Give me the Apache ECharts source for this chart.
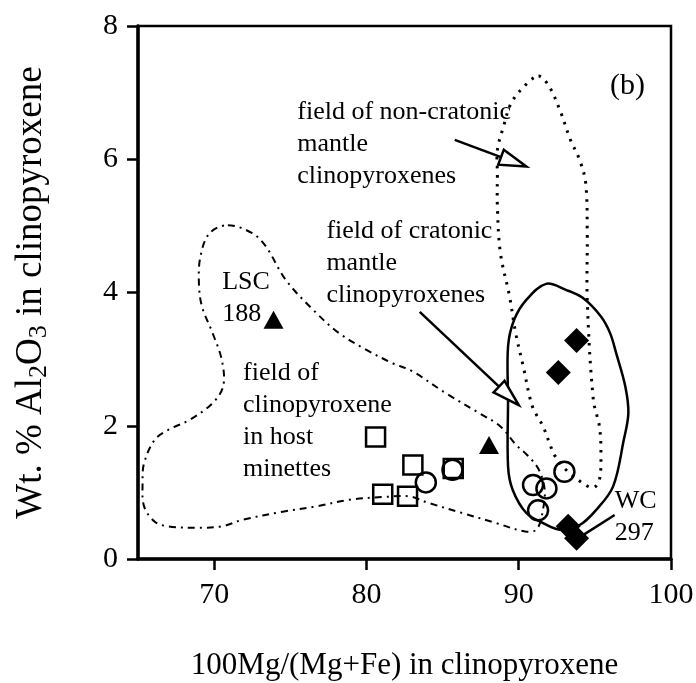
<!DOCTYPE html>
<html>
<head>
<meta charset="utf-8">
<script src="https://cdn.jsdelivr.net/npm/echarts@6/dist/echarts.min.js"></script>
<style>html,body{margin:0;padding:0;background:#fff}#c{width:696px;height:683px}</style>
</head>
<body>
<div id="c"></div>
<script>
// ---- data ----
const xTickValues = [70, 80, 90, 100];
const yTickValues = [0, 2, 4, 6, 8];

const triangles = [[73.9, 3.59], [88.05, 1.71]];
const squares = [[80.6, 1.83], [83.05, 1.41], [85.7, 1.36], [81.07, 0.97], [82.7, 0.94]];
const circles = [[83.9, 1.15], [85.65, 1.34], [90.94, 1.11], [91.82, 1.06], [93.0, 1.31], [91.27, 0.73]];
const diamonds = [[93.8, 3.28], [92.6, 2.80], [93.25, 0.49], [93.8, 0.31]];

// field outlines (closed loops)
const cratonicField = [
  [91.8, 4.13], [93.1, 4.04], [94.2, 3.92], [95.4, 3.64], [96.0, 3.39], [96.4, 3.09],
  [97.0, 2.59], [97.2, 2.19], [96.9, 1.79], [96.2, 1.09], [95.1, 0.74], [94.0, 0.51],
  [92.7, 0.44], [91.6, 0.54], [90.5, 0.69], [89.6, 1.04], [89.3, 1.39], [89.3, 2.39],
  [89.3, 3.19], [89.7, 3.59], [90.5, 3.89]
];
const nonCratonicField = [
  [91.3, 7.25], [92.0, 7.09], [92.7, 6.74], [93.4, 6.29], [94.0, 5.99], [94.4, 5.64],
  [94.5, 4.89], [94.5, 3.89], [94.9, 2.39], [95.3, 1.99], [95.4, 1.59], [95.3, 1.19],
  [94.9, 1.07], [94.2, 1.14], [93.1, 1.34], [92.4, 1.54], [92.1, 1.69], [91.6, 1.99],
  [90.9, 2.29], [90.3, 2.89], [89.8, 3.39], [89.4, 3.94], [88.8, 4.59], [88.6, 5.29],
  [88.6, 5.79], [88.6, 6.14], [89.0, 6.49], [89.5, 6.84], [90.3, 7.08]
];
const minetteField = [
  [70.9, 5.01], [72.5, 4.89], [73.4, 4.69], [74.7, 4.19], [76.5, 3.74], [78.2, 3.39],
  [80.0, 3.14], [81.7, 2.94], [83.0, 2.82], [85.2, 2.49], [87.4, 2.19], [88.8, 1.99],
  [89.8, 1.72], [90.6, 1.55], [91.3, 1.35], [91.7, 1.05], [91.6, 0.75], [91.2, 0.45],
  [90.5, 0.41], [88.5, 0.54], [86.3, 0.69], [84.1, 0.84], [82.8, 0.94], [81.1, 0.93],
  [78.9, 0.89], [76.7, 0.79], [74.5, 0.71], [71.9, 0.59], [70.5, 0.49], [69.0, 0.47],
  [67.0, 0.49], [66.1, 0.56], [65.4, 0.79], [65.3, 1.14], [65.4, 1.44], [66.1, 1.79],
  [67.0, 1.94], [68.4, 2.09], [69.9, 2.34], [70.6, 2.6], [70.5, 2.99], [69.9, 3.39],
  [69.2, 3.79], [69.0, 4.14], [69.1, 4.54], [69.7, 4.89]
];

// arrows: [tail, tip]
const arrowNonCratonic = [[85.8, 6.29], [90.5, 5.89]];
const arrowCratonic = [[83.5, 3.71], [90.0, 2.31]];
const lineWC = [[96.3, 0.66], [94.3, 0.37]];

// annotation texts: [x, y, text]
const annotations = [
  [75.46, 6.23, 'field of non-cratonic\nmantle\nclinopyroxenes'],
  [77.37, 4.44, 'field of cratonic\nmantle\nclinopyroxenes'],
  [70.53, 3.92, 'LSC\n188'],
  [71.9, 2.07, 'field of\nclinopyroxene\nin host\nminettes'],
  [96.3, 0.635, 'WC\n297']
];
const panelLabel = [96.0, 7.1, '(b)'];

// ---- chart ----
const FONT = "'Liberation Serif', 'Times New Roman', serif";
const chart = echarts.init(document.getElementById('c'), null, {renderer: 'canvas'});

function fieldSeries(points, style) {
  return {
    type: 'custom', data: [0], silent: true, clip: false, z: 3,
    renderItem: function (params, api) {
      return {
        type: 'polygon',
        shape: {points: points.map(p => api.coord(p)), smooth: 0.35},
        style: Object.assign({fill: 'none', stroke: '#000'}, style)
      };
    }
  };
}

function arrowSeries(pair, openHead) {
  return {
    type: 'custom', data: [0], silent: true, clip: false, z: 4,
    renderItem: function (params, api) {
      const a = api.coord(pair[0]);
      const b = api.coord(pair[1]);
      const children = [];
      if (openHead) {
        const dx = b[0] - a[0], dy = b[1] - a[1];
        const len = Math.sqrt(dx * dx + dy * dy);
        const ux = dx / len, uy = dy / len;
        const hl = 27, hw = 8;
        const bx = b[0] - ux * hl, by = b[1] - uy * hl;
        children.push({type: 'line', shape: {x1: a[0], y1: a[1], x2: bx, y2: by},
          style: {stroke: '#000', lineWidth: 2.5}});
        children.push({type: 'polygon', shape: {points: [
          [b[0], b[1]], [bx - uy * hw, by + ux * hw], [bx + uy * hw, by - ux * hw]]},
          style: {fill: '#fff', stroke: '#000', lineWidth: 2.5}});
      } else {
        children.push({type: 'line', shape: {x1: a[0], y1: a[1], x2: b[0], y2: b[1]},
          style: {stroke: '#000', lineWidth: 2.5}});
      }
      return {type: 'group', children: children};
    }
  };
}

function textSeries(items, fontSize) {
  return {
    type: 'custom', data: items, silent: true, clip: false, z: 6,
    renderItem: function (params, api) {
      const item = items[params.dataIndex];
      const p = api.coord([item[0], item[1]]);
      return {
        type: 'text', x: p[0], y: p[1],
        style: {text: item[2], fill: '#000', font: fontSize + 'px ' + FONT,
          lineHeight: 32, align: 'left', verticalAlign: 'middle'}
      };
    }
  };
}

const option = {
  animation: false,
  backgroundColor: '#fff',
  grid: {left: 138, right: 25, top: 26, bottom: 124, show: true, containLabel: false,
    outerBoundsMode: 'none',
    borderColor: '#000', borderWidth: 2.5, backgroundColor: 'transparent'},
  xAxis: {
    type: 'value', min: 65, max: 100,
    name: '100Mg/(Mg+Fe) in clinopyroxene', nameLocation: 'middle', nameGap: 91,
    nameTextStyle: {fontFamily: FONT, fontSize: 31, color: '#000'},
    axisLine: {show: true, onZero: false, lineStyle: {color: '#000', width: 3.5}},
    axisTick: {show: true, inside: false, length: 11, customValues: xTickValues,
      lineStyle: {color: '#000', width: 2.5}},
    axisLabel: {customValues: xTickValues, margin: 21, fontFamily: FONT, fontSize: 30, color: '#000'},
    splitLine: {show: false}
  },
  yAxis: {
    type: 'value', min: 0, max: 8, interval: 2,
    name: 'Wt. % Al{sub|2}O{sub|3} in clinopyroxene', nameLocation: 'middle', nameGap: 86,
    nameRotate: 90,
    nameTextStyle: {fontFamily: FONT, fontSize: 37, color: '#000',
      rich: {sub: {fontFamily: FONT, fontSize: 26, color: '#000', padding: [16, 0, 0, 0]}}},
    axisLine: {show: true, onZero: false, lineStyle: {color: '#000', width: 3.5}},
    axisTick: {show: true, inside: false, length: 11, lineStyle: {color: '#000', width: 2.5}},
    axisLabel: {margin: 20, fontFamily: FONT, fontSize: 30, color: '#000'},
    splitLine: {show: false}
  },
  series: [
    fieldSeries(minetteField, {lineWidth: 2, lineDash: [7, 5, 2, 5]}),
    fieldSeries(nonCratonicField, {lineWidth: 3, lineDash: [2.5, 6.5]}),
    fieldSeries(cratonicField, {lineWidth: 2.5}),
    arrowSeries(arrowNonCratonic, true),
    arrowSeries(arrowCratonic, true),
    arrowSeries(lineWC, false),
    {type: 'scatter', data: squares, symbol: 'rect', symbolSize: 19, z: 5,
      itemStyle: {color: 'rgba(0,0,0,0)', borderColor: '#000', borderWidth: 2.5, opacity: 1}},
    {type: 'scatter', data: circles, symbol: 'circle', symbolSize: 20, z: 5,
      itemStyle: {color: 'rgba(0,0,0,0)', borderColor: '#000', borderWidth: 2.5, opacity: 1}},
    {type: 'scatter', data: triangles, symbol: 'triangle', symbolSize: [20, 18], z: 5,
      itemStyle: {color: '#000', opacity: 1}},
    {type: 'scatter', data: diamonds, symbol: 'diamond', symbolSize: 25, z: 5,
      itemStyle: {color: '#000', opacity: 1}},
    textSeries(annotations, 26),
    textSeries([panelLabel], 30)
  ]
};
chart.setOption(option);
</script>
</body>
</html>
